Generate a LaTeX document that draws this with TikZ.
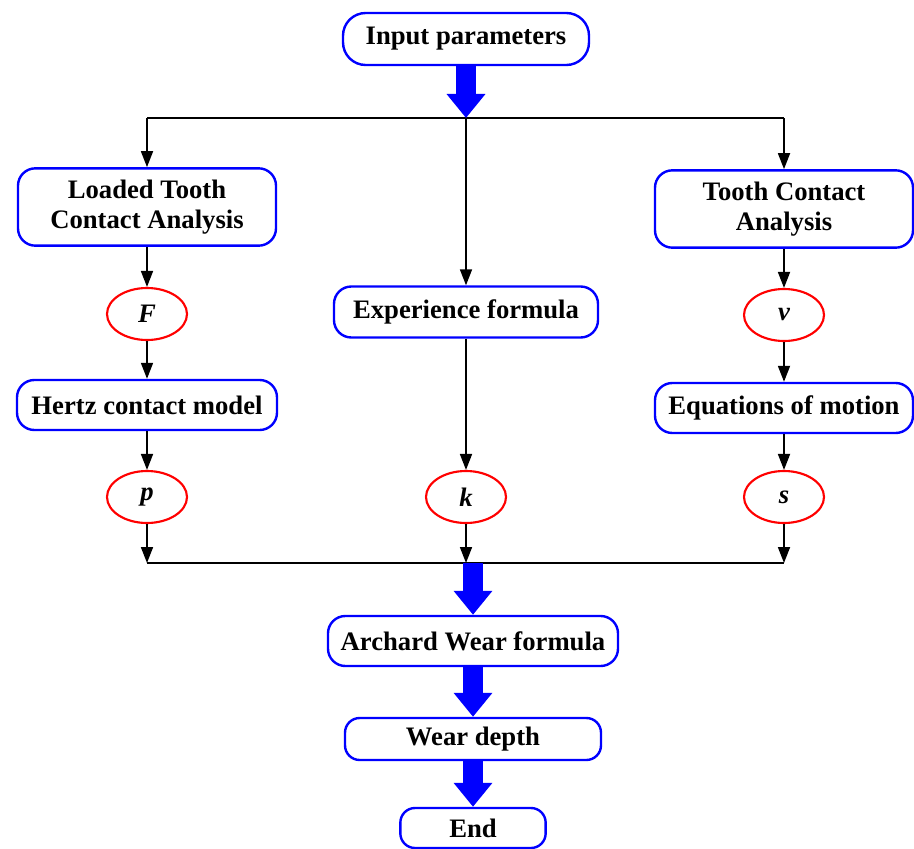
\documentclass[tikz,border=0pt]{standalone}
\usepackage{fontspec}
\setmainfont{Liberation Serif}
\usetikzlibrary{shapes.geometric,arrows.meta}
\begin{document}
\begin{tikzpicture}[x=0.75pt,y=-0.75pt,
  box/.style={draw=blue,line width=1.8pt,rounded corners=13pt,fill=white,align=center,
    font=\fontsize{20pt}{23pt}\selectfont\bfseries,inner sep=0pt},
  oval/.style={ellipse,draw=red,line width=1.6pt,fill=white,minimum width=60pt,minimum height=39pt,
    inner sep=0pt,font=\fontsize{20pt}{23pt}\selectfont\bfseries\itshape},
  arr/.style={line width=1.3pt,-{Triangle[length=12pt,width=9pt]}},
  bigarr/.style={blue,line width=15pt,-{Triangle[length=18pt,width=28pt]}}]
\useasboundingbox (0,0) rectangle (914,849);
% nodes
\node[box,minimum width=184.5pt,minimum height=39pt,rounded corners=17pt] (inp) at (466,39) {Input parameters};
\node[box,minimum width=193.5pt,minimum height=58pt] (lta) at (147,207) {Loaded Tooth\\Contact Analysis};
\node[box,minimum width=193.5pt,minimum height=58pt] (tca) at (784,209) {Tooth Contact\\Analysis};
\node[box,minimum width=198pt,minimum height=38.25pt] (exp) at (466,312) {Experience formula};
\node[oval] (F) at (147,314) {F};
\node[oval] (v) at (784,315) {v};
\node[box,minimum width=195pt,minimum height=37.5pt] (hertz) at (147,405) {Hertz contact model};
\node[box,minimum width=193.5pt,minimum height=37.5pt] (eqm) at (784,408) {Equations of motion};
\node[oval] (p) at (147,497) {p};
\node[oval] (k) at (466,497) {k};
\node[oval] (s) at (784,497) {s};
\node[box,minimum width=217.5pt,minimum height=37.5pt] (arch) at (473,641) {Archard Wear formula};
\node[box,minimum width=192pt,minimum height=31.5pt,rounded corners=11pt] (wear) at (473,739) {Wear depth};
\node[box,minimum width=109pt,minimum height=30pt,rounded corners=11pt] (endn) at (473,828) {End};
% junctions
\coordinate (c1) at (147,118);
\coordinate (c2) at (466,118);
\coordinate (c3) at (784,118);
\coordinate (d1) at (147,563);
\coordinate (d2) at (466,563);
\coordinate (d3) at (784,563);
\coordinate (d4) at (473,563);
% lines
\draw[line width=1.3pt] (c1) -- (c3);
\draw[line width=1.3pt] (d1) -- (d3);
\draw[bigarr] (inp.south) -- (c2);
\draw[arr] (c1) -- (lta.north);
\draw[arr] (c2) -- (exp.north);
\draw[arr] (c3) -- (tca.north);
\draw[arr] (lta) -- (F);
\draw[arr] (F) -- (hertz);
\draw[arr] (hertz) -- (p);
\draw[arr] (p) -- (d1);
\draw[arr] (tca) -- (v);
\draw[arr] (v) -- (eqm);
\draw[arr] (eqm) -- (s);
\draw[arr] (s) -- (d3);
\draw[arr] (exp) -- (k);
\draw[arr] (k) -- (d2);
\draw[bigarr] (d4) -- (arch.north);
\draw[bigarr] (arch.south) -- (wear.north);
\draw[bigarr] (wear.south) -- (endn.north);
\end{tikzpicture}
\end{document}
